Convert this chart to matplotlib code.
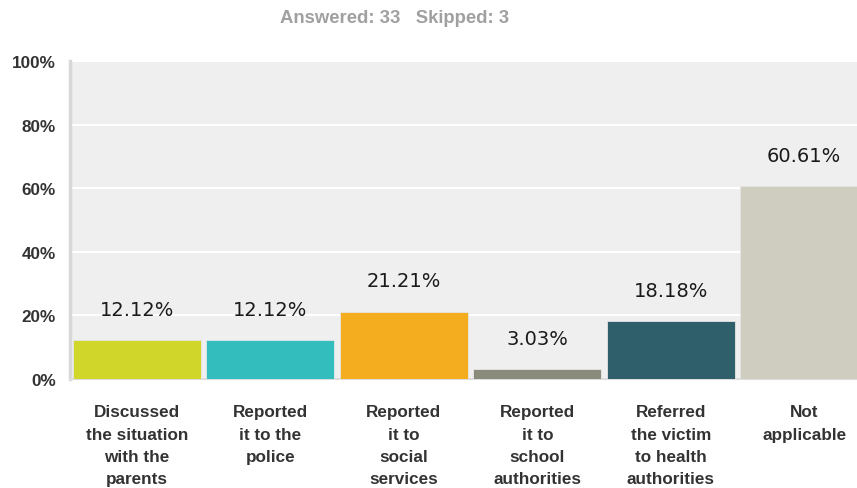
import matplotlib.pyplot as plt
from matplotlib.transforms import blended_transform_factory

# data
categories = [
    "Discussed\nthe situation\nwith the\nparents",
    "Reported\nit to the\npolice",
    "Reported\nit to\nsocial\nservices",
    "Reported\nit to\nschool\nauthorities",
    "Referred\nthe victim\nto health\nauthorities",
    "Not\napplicable",
]
values = [12.12, 12.12, 21.21, 3.03, 18.18, 60.61]
colors = ["#d0d62a", "#33bdbd", "#f5ad20", "#8a8b7a", "#2e5f6b", "#cfcdbf"]
yticks = [0, 20, 40, 60, 80, 100]

fig = plt.figure(figsize=(8.57, 4.89), dpi=100)
# plot area is wider than the picture, last bar gets cut like in the original
ax = fig.add_axes([70 / 857, 109 / 489, 801 / 857, 318 / 489])
ax.set_facecolor("#efefef")

x = list(range(len(values)))
ax.bar(x, values, width=0.96, color=colors, edgecolor="#e6e6e6", linewidth=0.6, zorder=3)

ax.set_xlim(-0.5, len(values) - 0.5)
ax.set_ylim(0, 100)
ax.set_yticks(yticks)
ax.set_yticklabels([f"{t}%" for t in yticks], fontfamily="Liberation Sans",
                   fontweight="bold", fontsize=12.3, color="#333333")
ax.tick_params(axis="y", length=0, pad=10)
ax.set_xticks([])
ax.grid(axis="y", color="white", linewidth=1.5, zorder=1)

for s in ["top", "right"]:
    ax.spines[s].set_visible(False)
ax.spines["left"].set_color("#d8d8d8")
ax.spines["left"].set_linewidth(2.5)
ax.spines["bottom"].set_color("#dddddd")
ax.spines["bottom"].set_linewidth(1.5)

# value labels
for xi, v in zip(x, values):
    ax.annotate(f"{v:.2f}%", (xi, v), xytext=(0, 22), textcoords="offset points",
                ha="center", va="center", fontsize=14, color="#1a1a1a",
                fontfamily="DejaVu Sans", zorder=4)

# category labels
trans = blended_transform_factory(ax.transData, ax.transAxes)
for xi, c in zip(x, categories):
    ax.text(xi, -0.08, c, transform=trans, ha="center", va="top",
            fontsize=12.3, fontweight="bold", color="#333333",
            fontfamily="Liberation Sans", linespacing=1.6)

fig.text(0.46, 0.962, "Answered: 33   Skipped: 3", ha="center", va="center",
         fontsize=13.3, fontweight="bold", color="#a0a0a0", fontfamily="Liberation Sans")

fig.savefig("out.png", dpi=100)
